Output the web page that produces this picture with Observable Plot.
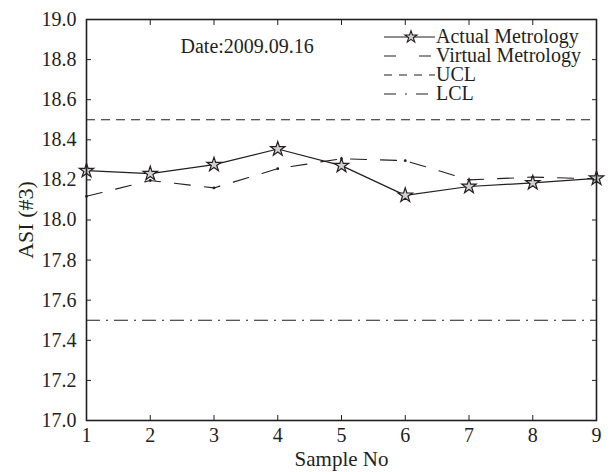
<!DOCTYPE html>
<html>
<head>
<meta charset="utf-8">
<script src="https://cdn.jsdelivr.net/npm/d3@7"></script>
<script src="https://cdn.jsdelivr.net/npm/@observablehq/plot@0.6"></script>
<style>
  html, body { margin: 0; padding: 0; background: #fff; }
  svg { display: block; }
</style>
</head>
<body>
<div id="chart"></div>
<script>
const samples = [1, 2, 3, 4, 5, 6, 7, 8, 9];
const actualMetrology = [18.246, 18.231, 18.276, 18.354, 18.271, 18.123, 18.167, 18.185, 18.208];
const virtualMetrology = [18.118, 18.197, 18.160, 18.256, 18.306, 18.296, 18.200, 18.214, 18.205];
const uclValue = [18.5];
const lclValue = [17.5];
const yTicks = [17.0, 17.2, 17.4, 17.6, 17.8, 18.0, 18.2, 18.4, 18.6, 18.8, 19.0];
const legendLabels = ["Actual Metrology", "Virtual Metrology", "UCL", "LCL"];
const dateText = ["Date:2009.09.16"];

const actualData = samples.map((s, i) => ({x: s, y: actualMetrology[i]}));
const virtualData = samples.map((s, i) => ({x: s, y: virtualMetrology[i]}));

const font = "Liberation Serif, Times New Roman, serif";
const ink = "#231f20";

const chart = Plot.plot({
  width: 612,
  height: 472,
  marginLeft: 86,
  marginRight: 16,
  marginTop: 19,
  marginBottom: 52,
  style: {fontFamily: font, fontSize: "20px", background: "white", color: ink},
  x: {domain: [1, 9]},
  y: {domain: [17, 19]},
  marks: [
    Plot.ruleY(uclValue, {stroke: ink, strokeWidth: 1.1, strokeDasharray: "9,6"}),
    Plot.ruleY(lclValue, {stroke: ink, strokeWidth: 1.1, strokeDasharray: "14,6,2,6"}),
    Plot.line(virtualData, {x: "x", y: "y", stroke: ink, strokeWidth: 1.1, strokeDasharray: "16,14"}),
    Plot.dot(virtualData, {x: "x", y: "y", r: 1.4, fill: ink, stroke: "none"}),
    Plot.line(actualData, {x: "x", y: "y", stroke: ink, strokeWidth: 1.2}),
    Plot.dot(actualData, {x: "x", y: "y", symbol: "star", r: 4.5, fill: "#d0d0d0", stroke: ink, strokeWidth: 1.2}),
    Plot.text(dateText, {frameAnchor: "top-left", dx: 94, dy: 27, textAnchor: "start", lineAnchor: "middle", fontSize: 20, fill: ink}),
    // inward ticks
    Plot.axisX({anchor: "bottom", ticks: samples, tickSize: -5, tickFormat: () => "", label: null, stroke: ink}),
    Plot.axisX({anchor: "top", ticks: samples, tickSize: -5, tickFormat: () => "", label: null, stroke: ink}),
    Plot.axisY({anchor: "left", ticks: yTicks, tickSize: -5, tickFormat: () => "", label: null, stroke: ink}),
    Plot.axisY({anchor: "right", ticks: yTicks, tickSize: -5, tickFormat: () => "", label: null, stroke: ink}),
    // labels
    Plot.axisX({anchor: "bottom", ticks: samples, tickSize: 0, tickPadding: 7, tickFormat: d => String(d),
      label: null, fontSize: 20, fill: ink}),
    Plot.axisX({anchor: "bottom", ticks: [], label: "Sample No", labelAnchor: "center", labelArrow: "none",
      labelOffset: 45, fontSize: 21, fill: ink}),
    Plot.axisY({anchor: "left", ticks: yTicks, tickSize: 0, tickPadding: 10, tickFormat: d => d.toFixed(1),
      label: null, fontSize: 20, fill: ink}),
    Plot.axisY({anchor: "left", ticks: [], label: "ASI (#3)", labelAnchor: "center", labelArrow: "none",
      labelOffset: 69, fontSize: 22, fill: ink}),
    Plot.frame({stroke: ink, strokeWidth: 1.6})
  ]
});

document.getElementById("chart").appendChild(chart);

// Legend (top-right, inside the frame)
const svg = d3.select(chart);
const lg = svg.append("g").attr("transform", "translate(384,37)")
  .attr("text-anchor", "start")
  .style("font-family", font).style("font-size", "20px");
const rowH = 19;
const styles = [
  {dash: null, star: true},
  {dash: "12,23", star: false},
  {dash: "8,7", star: false},
  {dash: "12,9,2,9", star: false}
];
legendLabels.forEach((lab, i) => {
  const g = lg.append("g").attr("transform", `translate(0,${i * rowH})`);
  g.append("line").attr("x1", 0).attr("x2", 51).attr("y1", 0).attr("y2", 0)
    .attr("stroke", ink).attr("stroke-width", 1.2)
    .attr("stroke-dasharray", styles[i].dash);
  if (styles[i].star) {
    g.append("path").attr("d", d3.symbol(d3.symbolStar, 45)())
      .attr("transform", "translate(27,0)")
      .attr("fill", "#d0d0d0").attr("stroke", ink).attr("stroke-width", 1.1);
  }
  g.append("text").attr("x", 52).attr("y", 0).attr("dy", "0.32em")
    .attr("text-anchor", "start")
    .attr("fill", ink).text(lab);
});
</script>
</body>
</html>
